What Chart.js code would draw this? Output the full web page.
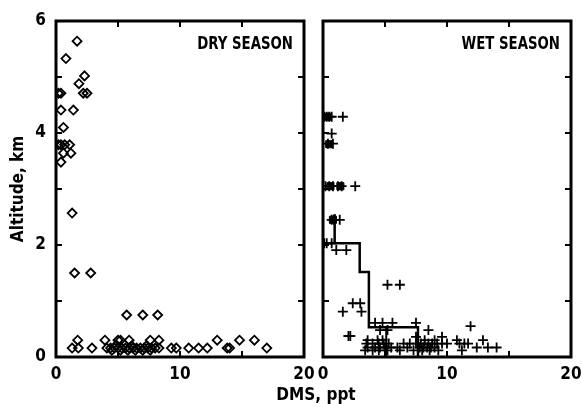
<!DOCTYPE html>
<html>
<head>
<meta charset="utf-8">
<script src="https://cdn.jsdelivr.net/npm/chart.js@4.4.1/dist/chart.umd.min.js"></script>
<style>
  html, body { margin: 0; padding: 0; background: #fff; }
  #wrap { position: relative; width: 582px; height: 404px; overflow: hidden; }
  #dry { position: absolute; left: 0; top: 0; }
  #wet { position: absolute; left: 310px; top: 0; }
  #xtitle {
    position: absolute; left: 0; width: 632px; top: 384px; text-align: center;
    font: bold 17px 'Liberation Sans Narrow', 'DejaVu Sans Condensed', sans-serif; color: #000;
  }
</style>
</head>
<body>
<div id="wrap">
  <canvas id="dry" width="315" height="404"></canvas>
  <canvas id="wet" width="272" height="404"></canvas>
  <div id="xtitle">DMS, ppt</div>
</div>
<script>
const FONT = "'Liberation Sans Narrow', 'DejaVu Sans Condensed', sans-serif";

// dry season (diamonds): DMS ppt vs altitude km
const dryDms = [
  1.7, 0.8, 2.3, 1.85,
  0.2, 0.4, 2.2, 2.5,
  0.4, 1.4, 0.6,
  0.2, 0.4, 0.7, 1.1, 0.6, 1.2, 0.4,
  1.3, 1.5, 2.8,
  5.7, 7.0, 8.2,
  1.75, 3.95, 5.0, 5.2, 5.9, 7.6, 8.3, 13.0, 14.8, 16.0,
  1.3, 1.8, 2.9, 4.1, 4.4, 4.7, 5.0, 5.3, 5.6, 5.9, 6.2, 6.5, 6.8, 7.1, 7.4, 7.7, 8.0, 8.3,
  9.3, 9.7, 10.7, 11.5, 12.2, 13.8, 14.0, 17.0,
  4.5, 5.2, 5.8, 6.4, 7.0, 7.6, 4.8, 6.1, 7.3
];
const dryAlt = [
  5.64, 5.33, 5.02, 4.88,
  4.71, 4.71, 4.71, 4.71,
  4.41, 4.41, 4.10,
  3.79, 3.79, 3.79, 3.79, 3.64, 3.64, 3.48,
  2.57, 1.50, 1.50,
  0.75, 0.75, 0.75,
  0.30, 0.30, 0.30, 0.30, 0.30, 0.30, 0.30, 0.30, 0.30, 0.30,
  0.16, 0.16, 0.16, 0.16, 0.16, 0.16, 0.16, 0.16, 0.16, 0.16, 0.16, 0.16, 0.16, 0.16, 0.16, 0.16, 0.16, 0.16,
  0.16, 0.16, 0.16, 0.16, 0.16, 0.16, 0.16, 0.16,
  0.12, 0.12, 0.12, 0.12, 0.12, 0.12, 0.20, 0.20, 0.20
];

// wet season (crosses)
const wetDms = [
  0.1, 0.3, 0.5, 0.7, 1.6,
  0.7,
  0.4, 0.8,
  0.2, 0.5, 0.8, 1.2, 1.5, 2.6,
  0.7, 0.9, 1.35,
  0.1, 0.3, 0.7,
  1.07, 1.88,
  5.2, 6.2,
  2.4, 3.0,
  1.6, 3.1,
  4.2, 4.8, 5.6, 7.5,
  11.9,
  4.6, 5.2, 8.5,
  2.05, 2.2,
  7.5, 9.6,
  3.6, 4.4, 4.8, 8.2, 9.0, 10.8, 12.9,
  3.5, 4.0, 4.5, 4.9, 5.3, 6.5, 7.0, 7.5, 7.9, 8.2, 8.5, 8.8, 9.2, 9.6, 10.0, 11.0, 11.4, 11.7,
  3.6, 4.2, 4.6, 5.0, 5.5, 6.0, 6.8, 7.8, 8.1, 8.4, 8.7, 9.0, 12.4, 13.3, 14.0,
  3.4, 4.0, 4.5, 5.2, 6.2, 7.3, 8.0, 8.6, 9.3, 11.2
];
const wetAlt = [
  4.29, 4.29, 4.29, 4.29, 4.29,
  3.99,
  3.81, 3.81,
  3.05, 3.05, 3.05, 3.05, 3.05, 3.05,
  2.45, 2.45, 2.45,
  2.03, 2.03, 2.03,
  1.91, 1.91,
  1.29, 1.29,
  0.96, 0.96,
  0.81, 0.81,
  0.61, 0.61, 0.61, 0.61,
  0.55,
  0.48, 0.48, 0.48,
  0.375, 0.375,
  0.36, 0.36,
  0.30, 0.30, 0.30, 0.30, 0.30, 0.30, 0.30,
  0.24, 0.24, 0.24, 0.24, 0.24, 0.24, 0.24, 0.24, 0.24, 0.24, 0.24, 0.24, 0.24, 0.24, 0.24, 0.24, 0.24, 0.24,
  0.17, 0.17, 0.17, 0.17, 0.17, 0.17, 0.17, 0.17, 0.17, 0.17, 0.17, 0.17, 0.17, 0.17, 0.17,
  0.12, 0.12, 0.12, 0.12, 0.12, 0.12, 0.12, 0.12, 0.12, 0.12
];

// overplotted clumps near the axis in the wet panel
const clumpDms = [0.4, 0.5, 0.6, 1.4, 0.8];
const clumpAlt = [4.29, 3.80, 3.05, 3.05, 2.45];

// wet season mean profile (step line)
const stepDms = [0, 2.96, 2.96, 3.7, 3.7, 7.66, 7.66];
const stepAlt = [2.03, 2.03, 1.52, 1.52, 0.53, 0.53, 0];
const stubDms = [0.94, 0.94];
const stubAlt = [2.55, 2.03];
const innerDms = [5.1, 5.1];
const innerAlt = [0.53, 0];

const xTicks = [0, 10, 20];
const yTicks = [0, 2, 4, 6];

const pts = (xs, ys) => xs.map((x, i) => ({ x, y: ys[i] }));

// thick frame + inward tick marks + panel label
const framePlugin = {
  id: 'frame',
  afterDraw(chart, args, opts) {
    const { ctx, chartArea: a, scales: { x, y } } = chart;
    ctx.save();
    ctx.strokeStyle = '#000';
    ctx.lineWidth = 2;
    for (let v = 5; v < 20; v += 5) {
      const px = x.getPixelForValue(v);
      ctx.beginPath();
      ctx.moveTo(px, a.top); ctx.lineTo(px, a.top + 6);
      ctx.moveTo(px, a.bottom); ctx.lineTo(px, a.bottom - 6);
      ctx.stroke();
    }
    for (let v = 1; v < 6; v++) {
      const py = y.getPixelForValue(v);
      ctx.beginPath();
      ctx.moveTo(a.left, py); ctx.lineTo(a.left + 6, py);
      ctx.moveTo(a.right, py); ctx.lineTo(a.right - 6, py);
      ctx.stroke();
    }
    ctx.lineWidth = 3;
    ctx.strokeRect(a.left, a.top, a.right - a.left, a.bottom - a.top);
    // panel label, squeezed a little to match the narrow lettering
    ctx.fillStyle = '#000';
    ctx.font = 'bold 17px ' + FONT;
    ctx.textAlign = 'right';
    ctx.textBaseline = 'top';
    ctx.translate(a.right - 11, a.top + 15);
    ctx.scale(0.87, 1);
    ctx.fillText(opts.label, 0, 0);
    ctx.restore();
  }
};

function xScale() {
  return {
    type: 'linear', min: 0, max: 20,
    afterBuildTicks: s => { s.ticks = xTicks.map(v => ({ value: v })); },
    afterFit: s => { s.height = 47; s.paddingLeft = 0; s.paddingRight = 0; },
    ticks: { color: '#000', padding: 7, maxRotation: 0, font: { family: FONT, size: 17, weight: 'bold' } },
    grid: { display: false, drawTicks: false },
    border: { display: false },
  };
}

function yScale(show) {
  return {
    type: 'linear', min: 0, max: 6, display: show,
    afterBuildTicks: s => { s.ticks = yTicks.map(v => ({ value: v })); },
    afterFit: s => {
      s.width = show ? 56 : 0;
      s.paddingTop = 0; s.paddingBottom = 0;
    },
    ticks: { color: '#000', padding: 10, font: { family: FONT, size: 17, weight: 'bold' } },
    grid: { display: false, drawTicks: false },
    border: { display: false },
    title: {
      display: show, text: 'Altitude, km', color: '#000',
      font: { family: FONT, size: 17, weight: 'bold' }, padding: { top: 8, bottom: 0 },
    },
  };
}

const common = {
  responsive: false,
  animation: false,
  events: [],
  plugins: { legend: { display: false }, tooltip: { enabled: false } },
};

new Chart(document.getElementById('dry'), {
  type: 'scatter',
  data: {
    datasets: [{
      data: pts(dryDms, dryAlt),
      pointStyle: 'rectRot', pointRadius: 4.5,
      borderColor: '#000', backgroundColor: 'rgba(0,0,0,0)', borderWidth: 1.8,
    }],
  },
  options: {
    ...common,
    layout: { padding: { left: 0, right: 11, top: 21, bottom: 0 } },
    scales: { x: xScale(), y: yScale(true) },
    plugins: { ...common.plugins, frame: { label: 'DRY SEASON' } },
  },
  plugins: [framePlugin],
});

new Chart(document.getElementById('wet'), {
  type: 'scatter',
  data: {
    datasets: [
      {
        data: pts(wetDms, wetAlt),
        pointStyle: 'cross', pointRadius: 5,
        borderColor: '#000', borderWidth: 1.8,
      },
      {
        data: pts(clumpDms, clumpAlt),
        pointStyle: 'rect', pointRadius: 5,
        borderColor: '#000', backgroundColor: '#000', borderWidth: 1,
      },
      {
        data: pts(stepDms, stepAlt), showLine: true, pointRadius: 0,
        borderColor: '#000', borderWidth: 2.5,
      },
      {
        data: pts(stubDms, stubAlt), showLine: true, pointRadius: 0,
        borderColor: '#000', borderWidth: 2.5,
      },
      {
        data: pts(innerDms, innerAlt), showLine: true, pointRadius: 0,
        borderColor: '#000', borderWidth: 2,
      },
    ],
  },
  options: {
    ...common,
    layout: { padding: { left: 13, right: 11, top: 21, bottom: 0 } },
    scales: { x: xScale(), y: yScale(false) },
    plugins: { ...common.plugins, frame: { label: 'WET SEASON' } },
  },
  plugins: [framePlugin],
});
</script>
</body>
</html>
